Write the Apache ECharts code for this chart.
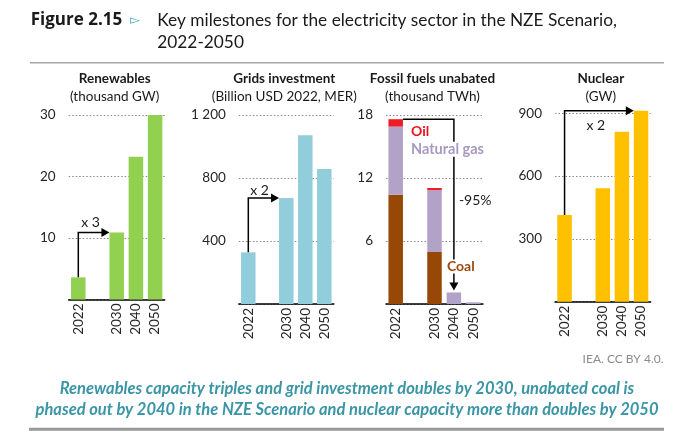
<!DOCTYPE html>
<html><head><meta charset="utf-8">
<script src="https://cdn.jsdelivr.net/npm/echarts@6/dist/echarts.min.js"></script>
<style>html,body{margin:0;padding:0;background:#fff}#c{width:680px;height:436px}</style>
</head><body><div id="c"></div>
<script>
// ---- data ----
const years = ['2022', '', '2030', '2040', '2050'];
const renewables = [3.6, null, 10.9, 23.2, 30];
const grids = [328, null, 673, 1071, 857];
const coal = [10.4, null, 4.95, 0, 0];
const gas = [6.5, null, 5.9, 1.1, 0.16];
const oil = [0.7, null, 0.2, 0, 0];
const nuclear = [414, null, 542, 812, 912];
const yMax = [30, 1200, 18, 900];
const yStep = [10, 400, 6, 300];
const panelTitles = ['Renewables', 'Grids investment', 'Fossil fuels unabated', 'Nuclear'];
const panelUnits = ['(thousand GW)', '(Billion USD 2022, MER)', '(thousand TWh)', '(GW)'];
const growthLabels = ['x 3', 'x 2', '-95%', 'x 2'];

// ---- layout ----
const FONT = 'Lato, "Noto Sans", sans-serif';
const WIDE = '"Open Sans", Lato, sans-serif';
const grids_ = [
  {left: 68.7, width: 96, top: 115, height: 184.5},
  {left: 238.8, width: 95, top: 115, height: 189},
  {left: 386, width: 97, top: 115, height: 189},
  {left: 555, width: 95.6, top: 113.3, height: 188.4}
];
const BW = 14.5;
const C = {green: '#92d050', blue: '#92cddc', coal: '#974806', gas: '#b3a2c7', oil: '#ee1c25', nuc: '#ffc000'};

function fmt(v) {
  if (v === 0) return '';
  if (v >= 1000) return Math.floor(v / 1000) + ' ' + String(v % 1000).padStart(3, '0');
  return String(v);
}

const chart = echarts.init(document.getElementById('c'), null, {renderer: 'canvas'});

const xAxis = grids_.map((g, i) => ({
  type: 'category', gridIndex: i, data: years,
  axisTick: {show: false},
  axisLine: {lineStyle: {color: '#000', width: 1.5}},
  axisLabel: {rotate: 90, interval: 0, margin: 4, fontSize: 13.5, color: '#262626', fontFamily: FONT}
}));
const yAxis = grids_.map((g, i) => ({
  type: 'value', gridIndex: i, min: 0, max: yMax[i], interval: yStep[i],
  axisLine: {show: false}, axisTick: {show: false},
  axisLabel: {formatter: fmt, fontSize: 13.5, color: '#262626', margin: 13, fontFamily: FONT},
  splitLine: {lineStyle: {type: [1.5, 2], color: '#8a8a8a', width: 1}}
}));

function bar(i, data, color, stack, z) {
  return {type: 'bar', xAxisIndex: i, yAxisIndex: i, data: data, barWidth: BW, stack: stack,
    clip: false, itemStyle: {color: color}, z: z || 2, silent: true, animation: false};
}

chart.setOption({
  animation: false,
  grid: grids_.map(g => Object.assign({outerBoundsMode: 'none', containLabel: false}, g)),
  xAxis: xAxis, yAxis: yAxis,
  series: [
    bar(0, renewables, C.green),
    bar(1, grids, C.blue),
    bar(2, coal, C.coal, 'f'),
    bar(2, gas, C.gas, 'f'),
    bar(2, oil, C.oil, 'f'),
    bar(3, nuclear, C.nuc)
  ]
});

// ---- annotations computed from the axes ----
function px(i, c, v) { return chart.convertToPixel({xAxisIndex: i, yAxisIndex: i}, [c, v]); }
const G = [];
function line(pts) { G.push({type: 'polyline', shape: {points: pts}, style: {stroke: '#000', lineWidth: 1.5, fill: null}, z: 10}); }
function arrowRight(x, y) { G.push({type: 'polygon', shape: {points: [[x, y], [x - 8, y - 4.5], [x - 8, y + 4.5]]}, style: {fill: '#000'}, z: 10}); }
function arrowDown(x, y) { G.push({type: 'polygon', shape: {points: [[x, y], [x - 4.5, y - 8], [x + 4.5, y - 8]]}, style: {fill: '#000'}, z: 10}); }
function text(x, y, s, o) {
  o = o || {};
  const st = {text: s, fill: o.color || '#1a1a1a', font: (o.style || '') + ' ' + (o.weight || 'normal') + ' ' + (o.size || 13) + 'px ' + (o.family || FONT),
    textAlign: o.align || 'left', textVerticalAlign: 'middle'};
  if (o.bg) { st.backgroundColor = o.bg; st.padding = [0, 2]; }
  G.push({type: 'text', x: x, y: y, z: 11, style: st});
}

// "x N" elbow arrows
function growth(i, vals, fromIdx, toIdx, lbl, dx, dy) {
  const a = px(i, fromIdx, vals[fromIdx]);
  const b = px(i, toIdx, vals[toIdx]);
  const tipX = b[0] - BW / 2;
  line([[a[0], a[1]], [a[0], b[1]], [tipX - 7, b[1]]]);
  arrowRight(tipX, b[1]);
  text(a[0] + dx, b[1] + dy, lbl, {size: 14});
}
growth(0, renewables, 0, 2, growthLabels[0], 3, -10);
growth(1, grids, 0, 2, growthLabels[1], 2, -8);
growth(3, nuclear, 0, 4, growthLabels[3], 22, 15);

// fossil bracket
(function () {
  const tot0 = coal[0] + gas[0] + oil[0];
  const tot2040 = coal[3] + gas[3] + oil[3];
  const a = px(2, 0, tot0);
  const b = px(2, 3, tot2040);
  const tipY = b[1] - 2;
  line([[a[0] + BW / 2, a[1]], [b[0], a[1]], [b[0], tipY - 7]]);
  arrowDown(b[0], tipY);
  text(b[0] + 5, (a[1] + tipY) / 2 - 4, growthLabels[2], {size: 14});
  text(a[0] + BW / 2 + 6, a[1] + 12, 'Oil', {weight: 'bold', color: '#e8141b', size: 14, bg: '#fff'});
  text(a[0] + BW / 2 + 6, a[1] + 30, 'Natural gas', {weight: 'bold', color: '#a898c2', size: 14.5, bg: '#fff'});
  text(b[0] - 9, tipY - 24, 'Coal', {weight: 'bold', color: '#9a4a0c', size: 14, bg: '#fff'});
})();

// panel titles
grids_.forEach((g, i) => {
  const cx = g.left + g.width / 2 - 2;
  text(cx, 79, panelTitles[i], {weight: 'bold', align: 'center', size: 13.5});
  text(cx, 97, panelUnits[i], {align: 'center', size: 13.5});
});

// figure title & footer
text(30.7, 20, 'Figure 2.15', {weight: 'bold', size: 17, family: WIDE});
text(130, 20, '\u25BB', {size: 13, color: '#4aa3c0'});
text(157.3, 20, 'Key milestones for the electricity sector in the NZE Scenario,', {size: 17.3});
text(157.3, 42.7, '2022-2050', {size: 17.3});
G.push({type: 'line', shape: {x1: 30, y1: 62.7, x2: 664, y2: 62.7}, style: {stroke: '#a6a6a6', lineWidth: 1.5}});
text(663.5, 359.3, 'IEA. CC BY 4.0.', {align: 'right', size: 12, color: '#8c8c8c'});
text(347, 388.7, 'Renewables capacity triples and grid investment doubles by 2030, unabated coal is', {align: 'center', size: 16.5, style: 'italic', weight: 'bold', color: '#3a95a6'});
text(347, 409.3, 'phased out by 2040 in the NZE Scenario and nuclear capacity more than doubles by 2050', {align: 'center', size: 16.5, style: 'italic', weight: 'bold', color: '#3a95a6'});
G.push({type: 'line', shape: {x1: 29, y1: 429.3, x2: 664, y2: 429.3}, style: {stroke: '#999', lineWidth: 3}});

chart.setOption({graphic: G});
</script>
</body></html>
